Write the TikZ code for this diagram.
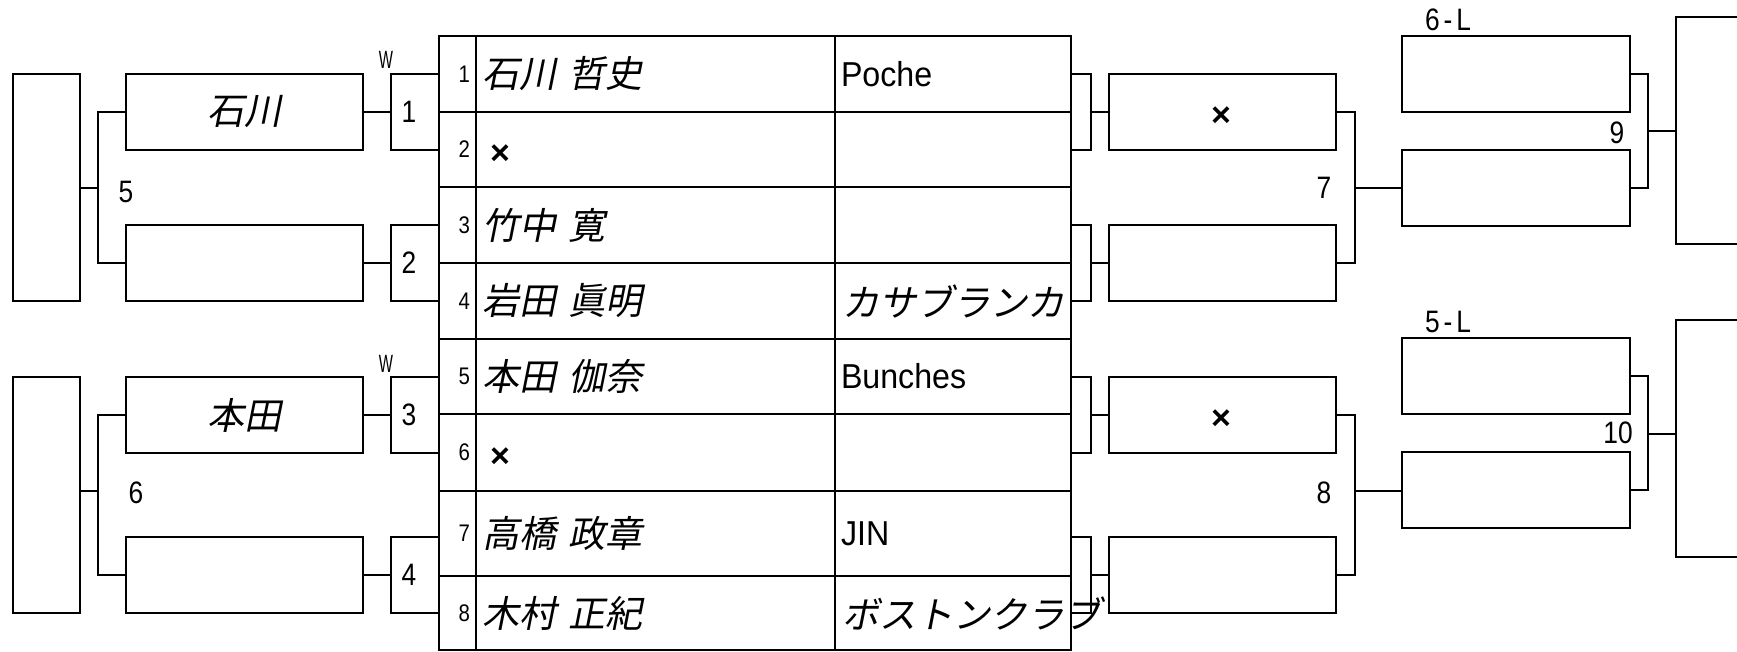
\documentclass[tikz,border=0pt]{standalone}
\usepackage{fontspec}
\setmainfont{Liberation Sans}
\newfontfamily\jpfont[FakeSlant=0.2,WordSpace=1.5]{Noto Sans CJK JP}
\newfontfamily\narrowfont[FakeStretch=0.6]{Liberation Sans}
\newfontfamily\numfont[FakeStretch=0.85]{Liberation Sans}
\newfontfamily\teamfont[FakeStretch=0.93]{Liberation Sans}

\begin{document}
\begin{tikzpicture}[x=0.5pt,y=-0.5pt,line width=1pt,
    box/.style={draw,inner sep=0pt,minimum height=38pt},
    seedbox/.style={box,minimum width=33.5pt},
    namebox/.style={box,minimum width=118.5pt,font=\jpfont\fontsize{18.5}{20}\selectfont},
    winbox/.style={box,minimum width=24pt},
    tiebox/.style={box,minimum width=10pt},
    xbox/.style={box,minimum width=113.5pt},
    lbox/.style={box,minimum width=114pt},
    endbox/.style={box,minimum width=40pt},
    player/.style={anchor=west,inner sep=0pt,font=\jpfont\fontsize{18.5}{20}\selectfont},
    team/.style={anchor=west,inner sep=0pt,font=\teamfont\fontsize{17.3}{19}\selectfont},
    teamjp/.style={anchor=west,inner sep=0pt,font=\jpfont\fontsize{18.5}{20}\selectfont},
    rownum/.style={anchor=east,inner sep=0pt,font=\numfont\fontsize{12}{14}\selectfont},
    matchnum/.style={inner sep=0pt,font=\numfont\fontsize{15.5}{17}\selectfont},
    xmark/.style={inner sep=0pt,font=\bfseries\fontsize{17}{18}\selectfont},
    wtag/.style={inner sep=0pt,font=\narrowfont\fontsize{12.5}{14}\selectfont}]
    \useasboundingbox (0,0) rectangle (1737,652);

    % the draw table
    \draw (439,36) rectangle (1071,650);
    \foreach \y in {112,187,263,339,414,491,576}
        \draw (439,\y) -- (1071,\y);
    \draw (476,36) -- (476,650) (835,36) -- (835,650);
    \foreach \n/\y in {1/74,2/149.5,3/225,4/301,5/376.5,6/452.5,7/533.5,8/613}
        \node[rownum] (r\n) at (471,\y) {\n};

    \node[player] (p1) at (481,74) {石川 哲史};
    \node[xmark] (p2) at (500,155) {×};
    \node[player] (p3) at (481,225) {竹中 寛};
    \node[player] (p4) at (481,301) {岩田 眞明};
    \node[player] (p5) at (481,376.5) {本田 伽奈};
    \node[xmark] (p6) at (500,458) {×};
    \node[player] (p7) at (481,533.5) {高橋 政章};
    \node[player] (p8) at (481,613) {木村 正紀};

    \node[team] (t1) at (840,74) {Poche};
    \node[teamjp] (t4) at (841,301) {カサブランカ};
    \node[team] (t5) at (840,376.5) {Bunches};
    \node[team] (t7) at (840,533.5) {JIN};
    \node[teamjp] (t8) at (841,613) {ボストンクラブ};

    % left half
    \node[seedbox,minimum height=113.5pt] (s5) at (46.5,187.5) {};
    \node[seedbox,minimum height=118pt] (s6) at (46.5,495) {};

    \node[namebox] (a1) at (244.5,112) {石川};
    \node[namebox] (a2) at (244.5,263) {};
    \node[namebox] (a3) at (244.5,415) {本田};
    \node[namebox] (a4) at (244.5,575) {};

    \node[winbox] (b1) at (415,112) {};
    \node[winbox] (b2) at (415,263) {};
    \node[winbox] (b3) at (415,415) {};
    \node[winbox] (b4) at (415,575) {};
    \foreach \n/\y in {1/112,2/263,3/415,4/575}
        \node[matchnum] (m\n) at (409,\y) {\n};
    \node[wtag] (w1) at (386,60) {W};
    \node[wtag] (w3) at (386,364) {W};

    \foreach \n in {1,...,4}
        \draw (a\n.east) -- (b\n.west);

    \coordinate (j5) at (98,188);
    \coordinate (j6) at (98,491);
    \draw (a1.west) -| (j5) |- (a2.west);
    \draw (a3.west) -| (j6) |- (a4.west);
    \draw (s5.east |- j5) -- (j5);
    \draw (s6.east |- j6) -- (j6);
    \node[matchnum] (k5) at (126,192) {5};
    \node[matchnum] (k6) at (136,493) {6};

    % right half
    \node[tiebox] (c1) at (1081,112) {};
    \node[tiebox] (c2) at (1081,263) {};
    \node[tiebox] (c3) at (1081,415) {};
    \node[tiebox] (c4) at (1081,575) {};

    \node[xbox] (x1) at (1222.5,112) {};
    \node[xbox] (x2) at (1222.5,263) {};
    \node[xbox] (x3) at (1222.5,415) {};
    \node[xbox] (x4) at (1222.5,575) {};
    \node[xmark] (x1m) at (1221,117) {×};
    \node[xmark] (x3m) at (1221,420) {×};

    \foreach \n in {1,...,4}
        \draw (c\n.east) -- (x\n.west);

    \node[lbox] (d1) at (1516,74) {};
    \node[lbox] (d2) at (1516,188) {};
    \node[lbox] (d3) at (1516,376.5) {};
    \node[lbox] (d4) at (1516,490.5) {};
    \node[matchnum,anchor=west] (q6) at (1424,20) {6\kern2pt-\kern2pt L};
    \node[matchnum,anchor=west] (q5) at (1424,322) {5\kern2pt-\kern2pt L};

    \coordinate (j7) at (1355,188);
    \coordinate (j8) at (1355,491);
    \draw (x1.east) -| (j7) |- (x2.east);
    \draw (x3.east) -| (j8) |- (x4.east);
    \draw (j7) -- (d2.west);
    \draw (j8) -- (j8 -| d4.west);
    \node[matchnum] (k7) at (1324,188) {7};
    \node[matchnum] (k8) at (1324,493) {8};

    % final boxes, cut by the page edge
    \node[endbox,minimum height=113.5pt] (e9) at (1716,130.5) {};
    \node[endbox,minimum height=118.5pt] (e10) at (1716,438.5) {};

    \coordinate (j9) at (1648,131);
    \coordinate (j10) at (1648,434);
    \draw (d1.east) -| (j9) |- (d2.east);
    \draw (d3.east) -| (j10) |- (d4.east);
    \draw (j9) -- (j9 -| e9.west);
    \draw (j10) -- (j10 -| e10.west);
    \node[matchnum] (k9) at (1617,133) {9};
    \node[matchnum] (k10) at (1618,433) {10};
\end{tikzpicture}
\end{document}
